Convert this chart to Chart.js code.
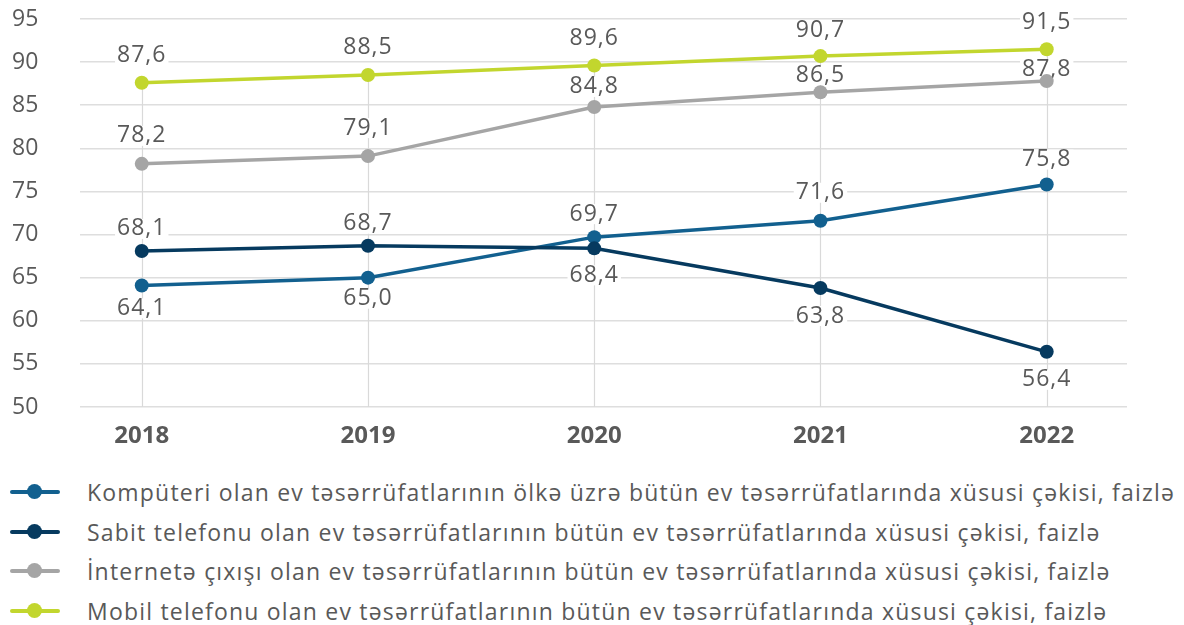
<!DOCTYPE html>
<html>
<head>
<meta charset="utf-8">
<script src="https://cdn.jsdelivr.net/npm/chart.js@4.4.0/dist/chart.umd.min.js"></script>
<style>
  html, body { margin: 0; padding: 0; background: #fff; }
  #wrap { position: relative; width: 1184px; height: 625px; overflow: hidden; }
  #chartBox { position: absolute; left: 0; top: 0; width: 1184px; height: 450px; }
  .legend-row {
    position: absolute; left: 0; height: 40px; line-height: 40px;
    font-family: "Open Sans", sans-serif; font-size: 23px; color: #595959; white-space: nowrap;
    letter-spacing: 1.2px;
  }
  .legend-row .mark { position: absolute; left: 10px; top: 18px; width: 50px; height: 4px; border-radius: 2px; }
  .legend-row .dot { position: absolute; left: 17px; top: -6px; width: 15px; height: 15px; border-radius: 50%; }
  .legend-row .txt { position: absolute; left: 87px; top: 0; }
</style>
</head>
<body>
<div id="wrap">
  <div id="chartBox"><canvas id="lineChart" width="1184" height="450"></canvas></div>
  <div id="legend"></div>
</div>
<script>
// === data ===
const years = [2018, 2019, 2020, 2021, 2022];
const seriesNames = [
  "Kompüteri olan ev təsərrüfatlarının ölkə üzrə bütün ev təsərrüfatlarında xüsusi çəkisi, faizlə",
  "Sabit telefonu olan ev təsərrüfatlarının bütün ev təsərrüfatlarında xüsusi çəkisi, faizlə",
  "İnternetə çıxışı olan ev təsərrüfatlarının bütün ev təsərrüfatlarında xüsusi çəkisi, faizlə",
  "Mobil telefonu olan ev təsərrüfatlarının bütün ev təsərrüfatlarında xüsusi çəkisi, faizlə"
];
const computer = [64.1, 65.0, 69.7, 71.6, 75.8];
const landline = [68.1, 68.7, 68.4, 63.8, 56.4];
const internet = [78.2, 79.1, 84.8, 86.5, 87.8];
const mobile = [87.6, 88.5, 89.6, 90.7, 91.5];
const yTicks = [50, 55, 60, 65, 70, 75, 80, 85, 90, 95];

// value label nudges (px from the point, negative = above)
const labelShift = [
  [23, 21, -23, -28, -25],
  [-22, -22, 27, 28, 28],
  [-28, -28, -20, -17, -12],
  [-27, -28, -27, -26, -27]
];

const colors = ["#12608f", "#063a5f", "#a5a5a5", "#c2d62e"];
const allSeries = [computer, landline, internet, mobile];
const drawOrder = [1, 0, 2, 3];

const textColor = "#595959";
const fontFamily = "'Open Sans', sans-serif";

// === legend (html) ===
const legendEl = document.getElementById("legend");
seriesNames.forEach((name, i) => {
  const row = document.createElement("div");
  row.className = "legend-row";
  row.style.top = (472 + i * 39.5) + "px";
  row.innerHTML = `<div class="mark" style="background:${colors[i]}"><div class="dot" style="background:${colors[i]}"></div></div><span class="txt">${name}</span>`;
  legendEl.appendChild(row);
});

// vertical drop lines from the top point of each year
const dropLines = {
  id: "dropLines",
  beforeDatasetsDraw(chart) {
    const { ctx, scales: { x, y }, chartArea } = chart;
    ctx.save();
    ctx.strokeStyle = "#d9d9d9";
    ctx.lineWidth = 1.2;
    years.forEach((yr, i) => {
      const top = Math.max(...allSeries.map(s => s[i]));
      const px = Math.round(x.getPixelForValue(yr)) + 0.5;
      ctx.beginPath();
      ctx.moveTo(px, y.getPixelForValue(top));
      ctx.lineTo(px, chartArea.bottom);
      ctx.stroke();
    });
    ctx.restore();
  }
};

// value labels with white backing, drawn under the lines
const valueLabels = {
  id: "valueLabels",
  beforeDatasetsDraw(chart) {
    const { ctx, scales: { x, y } } = chart;
    ctx.save();
    ctx.font = `23px ${fontFamily}`;
    ctx.letterSpacing = "1px";
    ctx.textAlign = "center";
    ctx.textBaseline = "middle";
    allSeries.forEach((vals, si) => {
      vals.forEach((v, i) => {
        const txt = v.toFixed(1).replace(".", ",");
        const px = x.getPixelForValue(years[i]);
        const py = y.getPixelForValue(v) + labelShift[si][i];
        const w = ctx.measureText(txt).width;
        ctx.fillStyle = "#fff";
        ctx.fillRect(px - w / 2 - 2, py - 10, w + 4, 20);
        ctx.fillStyle = textColor;
        ctx.fillText(txt, px, py);
      });
    });
    ctx.restore();
  }
};

const ctx = document.getElementById("lineChart").getContext("2d");
new Chart(ctx, {
  type: "line",
  data: {
    datasets: allSeries.map((vals, i) => ({
      label: seriesNames[i],
      data: vals.map((v, k) => ({ x: years[k], y: v })),
      borderColor: colors[i],
      backgroundColor: colors[i],
      borderWidth: 3.5,
      pointRadius: 7,
      pointHoverRadius: 7,
      pointBorderWidth: 0,
      tension: 0,
      order: drawOrder[i]
    }))
  },
  options: {
    responsive: false,
    animation: false,
    layout: { padding: { top: 19, right: 57, left: 12, bottom: 0 } },
    plugins: {
      legend: { display: false },
      tooltip: { enabled: false }
    },
    scales: {
      x: {
        type: "linear",
        min: 2017.727,
        max: 2022.355,
        afterBuildTicks: s => { s.ticks = years.map(v => ({ value: v })); },
        afterFit: s => { s.height = 43; },
        grid: { display: false },
        border: { display: false },
        ticks: {
          callback: v => String(v),
          color: textColor,
          padding: 7,
          font: { family: fontFamily, size: 24, weight: "bold" }
        }
      },
      y: {
        min: 50,
        max: 95,
        afterBuildTicks: s => { s.ticks = yTicks.map(v => ({ value: v })); },
        afterFit: s => { s.width = 68; },
        grid: { color: "#dedede", lineWidth: 1.5, drawTicks: false },
        border: { display: false },
        ticks: {
          color: textColor,
          padding: 2,
          crossAlign: "far",
          font: { family: fontFamily, size: 23 }
        }
      }
    }
  },
  plugins: [dropLines, valueLabels]
});
</script>
</body>
</html>
